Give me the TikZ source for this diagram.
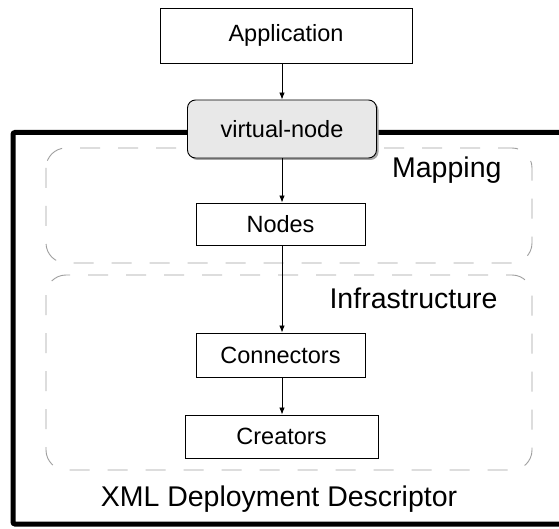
\documentclass[tikz,border=0pt]{standalone}
\usepackage{fontspec}
\setmainfont{Liberation Sans}
\usetikzlibrary{arrows.meta,shadows}

\begin{document}
\begin{tikzpicture}[x=1pt,y=-1pt,
  boxlabel/.style={font=\fontsize{23.5}{28}\selectfont},
  sectionlabel/.style={font=\fontsize{28.5}{34}\selectfont},
  stepbox/.style={draw, line width=0.9pt, fill=white, inner sep=0pt, boxlabel},
  vnodebox/.style={draw, line width=0.9pt, fill=gray!18, rounded corners=8pt, inner sep=0pt,
    drop shadow={shadow xshift=2pt, shadow yshift=-2pt, fill=gray!70, opacity=1}, boxlabel},
  region/.style={draw=gray!75, line width=0.9pt, dash pattern=on 20pt off 18pt, rounded corners=20pt},
  frameline/.style={line width=5pt, rounded corners=2pt},
  flow/.style={line width=0.8pt, -{Latex[length=7pt,width=5.5pt]}}]
\useasboundingbox (0,0) rectangle (559,529);
\clip (0,0) rectangle (559,529);
\fill[white] (0,0) rectangle (559,529);

% outer descriptor frame, open past the right edge
\draw[frameline] (575,132.5) -- (13,132.5) -- (13,524) -- (575,524);

% dashed regions
\draw[region] (46,148) rectangle (532,263);
\draw[region] (46,275) rectangle (532,470);
\node[sectionlabel, anchor=base east] (maplbl) at (505,178) {Mapping};
\node[sectionlabel, anchor=base east] (infralbl) at (501,308) {Infrastructure};
\node[sectionlabel, anchor=base] (xmllbl) at (279,506) {XML Deployment Descriptor};

% components
\node[stepbox, minimum width=252pt, minimum height=55pt] (app) at (286,35.5) {Application};
\node[vnodebox, minimum width=189pt, minimum height=58pt] (vnode) at (282,129) {virtual-node};
\node[stepbox, minimum width=169pt, minimum height=42pt] (nodes) at (280.5,224) {Nodes};
\node[stepbox, minimum width=169pt, minimum height=44pt] (conn) at (280.5,355) {Connectors};
\node[stepbox, minimum width=193pt, minimum height=43pt] (creat) at (281.5,436.5) {Creators};

% flow arrows
\draw[flow] (app.south -| vnode.north) -- (vnode.north);
\draw[flow] (vnode.south) -- (vnode.south |- nodes.north);
\draw[flow] (nodes.south -| vnode.south) -- (vnode.south |- conn.north);
\draw[flow] (conn.south -| vnode.south) -- (vnode.south |- creat.north);
\end{tikzpicture}
\end{document}
